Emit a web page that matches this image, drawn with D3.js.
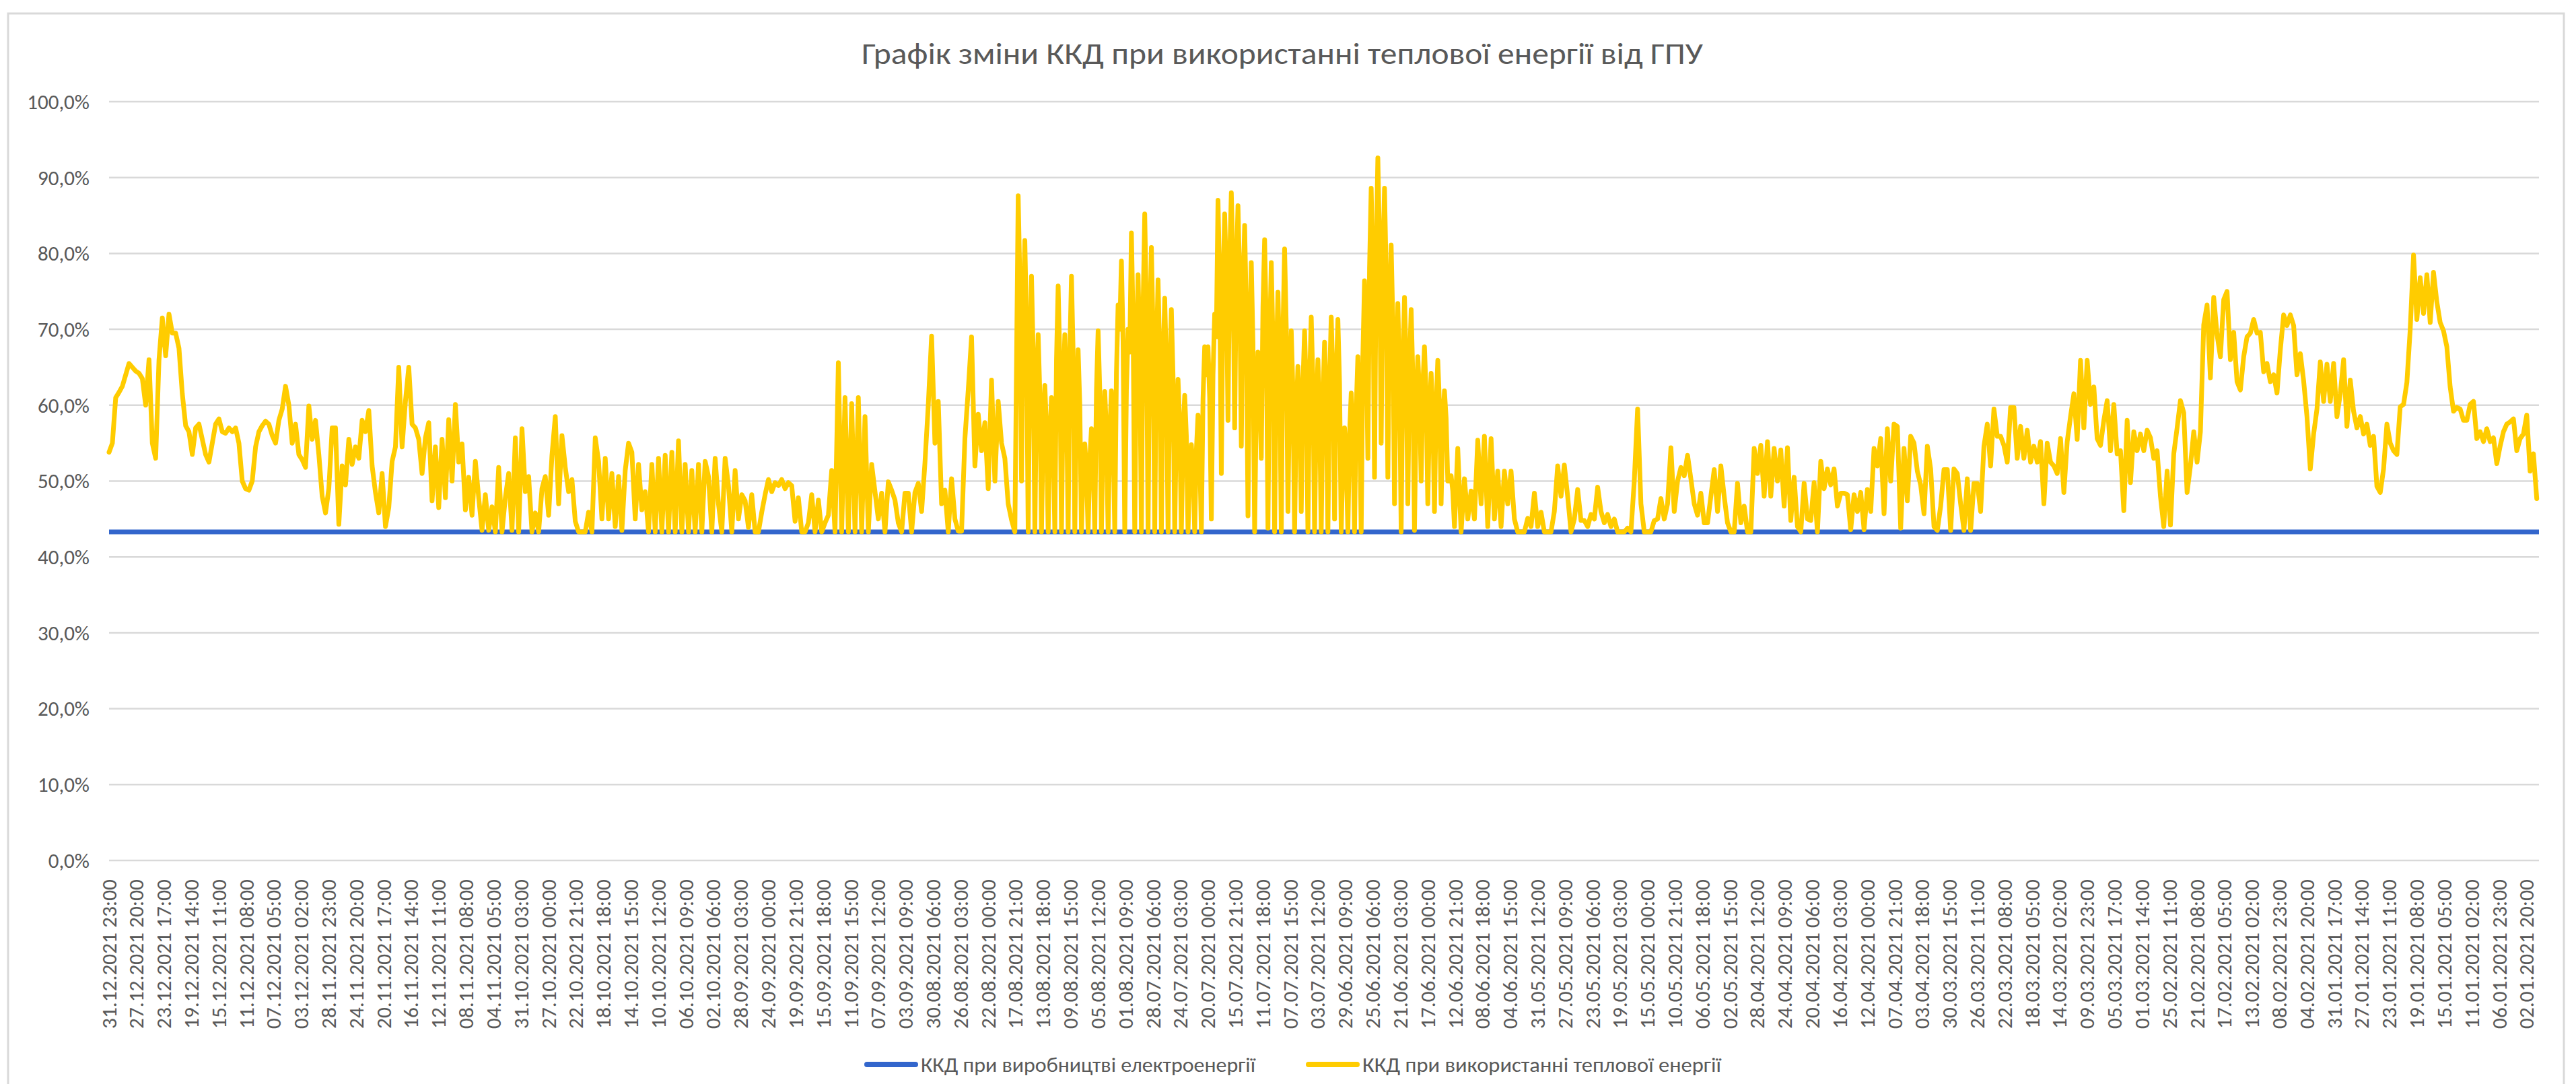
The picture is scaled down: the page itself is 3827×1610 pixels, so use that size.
<!DOCTYPE html>
<html><head><meta charset="utf-8">
<script src="https://cdn.jsdelivr.net/npm/d3@7/dist/d3.min.js"></script>
<style>body{margin:0;background:#fff}svg{display:block}</style>
</head><body><svg id="c" width="3827" height="1610"></svg>
<script>
const chartTitle = "Графік зміни ККД при використанні теплової енергії від ГПУ";
const seriesNames = ["ККД при виробництві електроенергії", "ККД при використанні теплової енергії"];
const seriesColors = ["#3366cc", "#ffcc00"];
const categoryCount = 8757;
const tickEvery = 99;
const tickLabels = [
"31.12.2021 23:00","27.12.2021 20:00","23.12.2021 17:00","19.12.2021 14:00","15.12.2021 11:00","11.12.2021 08:00","07.12.2021 05:00","03.12.2021 02:00",
"28.11.2021 23:00","24.11.2021 20:00","20.11.2021 17:00","16.11.2021 14:00","12.11.2021 11:00","08.11.2021 08:00","04.11.2021 05:00","31.10.2021 03:00",
"27.10.2021 00:00","22.10.2021 21:00","18.10.2021 18:00","14.10.2021 15:00","10.10.2021 12:00","06.10.2021 09:00","02.10.2021 06:00","28.09.2021 03:00",
"24.09.2021 00:00","19.09.2021 21:00","15.09.2021 18:00","11.09.2021 15:00","07.09.2021 12:00","03.09.2021 09:00","30.08.2021 06:00","26.08.2021 03:00",
"22.08.2021 00:00","17.08.2021 21:00","13.08.2021 18:00","09.08.2021 15:00","05.08.2021 12:00","01.08.2021 09:00","28.07.2021 06:00","24.07.2021 03:00",
"20.07.2021 00:00","15.07.2021 21:00","11.07.2021 18:00","07.07.2021 15:00","03.07.2021 12:00","29.06.2021 09:00","25.06.2021 06:00","21.06.2021 03:00",
"17.06.2021 00:00","12.06.2021 21:00","08.06.2021 18:00","04.06.2021 15:00","31.05.2021 12:00","27.05.2021 09:00","23.05.2021 06:00","19.05.2021 03:00",
"15.05.2021 00:00","10.05.2021 21:00","06.05.2021 18:00","02.05.2021 15:00","28.04.2021 12:00","24.04.2021 09:00","20.04.2021 06:00","16.04.2021 03:00",
"12.04.2021 00:00","07.04.2021 21:00","03.04.2021 18:00","30.03.2021 15:00","26.03.2021 11:00","22.03.2021 08:00","18.03.2021 05:00","14.03.2021 02:00",
"09.03.2021 23:00","05.03.2021 17:00","01.03.2021 14:00","25.02.2021 11:00","21.02.2021 08:00","17.02.2021 05:00","13.02.2021 02:00","08.02.2021 23:00",
"04.02.2021 20:00","31.01.2021 17:00","27.01.2021 14:00","23.01.2021 11:00","19.01.2021 08:00","15.01.2021 05:00","11.01.2021 02:00","06.01.2021 23:00",
"02.01.2021 20:00"];
const yTicks = [0,10,20,30,40,50,60,70,80,90,100];
// electricity efficiency: constant line, first and last category
const electricValues = [43.3, 43.3];
// heat-use efficiency, one reading every 12 hourly categories
const heatStepHours = 12;
const heatValues = [
53.8,55,61,61.7,62.5,64,65.5,65,64.5,64.2,
63.5,60,66,55,53,66,71.5,66.5,72,69.5,
69.5,67.5,61.5,57.3,56.5,53.5,57,57.5,55.5,53.5,
52.5,55,57.5,58.2,56.5,56.3,57,56.5,57,55,
50,49,48.8,50,54.5,56.5,57.3,57.9,57.5,56,
55,58,59.5,62.5,60,55,57.5,53.5,52.8,51.8,
59.9,55.5,58,53.5,48,45.8,49,57,57,44.3,
52,49.5,55.5,52.2,54.5,53,58,56.5,59.3,52,
48.5,45.8,51,44,46.5,52.6,54.5,65,54.5,60.5,
65,57.5,57,55.5,51,55.7,57.7,47.4,54.5,46.5,
55.5,47.8,58.1,50,60.1,52.5,54.9,46.2,50.5,45.5,
52.6,47.8,43.5,48.2,43.5,46.6,43.3,51.8,43.3,47.8,
51,43.5,55.7,43.3,56.9,48.6,50.6,43.3,45.8,43.3,
49,50.6,45.5,53.4,58.5,47,56,51.8,48.6,50.2,
44.7,43.3,43.3,43.3,45.9,43.3,55.7,52.6,45,53,
45,51,44,50.6,43.5,51.4,55,53.8,45,52.2,
46.2,48.6,43.3,52.2,43.3,53,43.3,53.4,43.3,53.8,
43.3,55.3,43.3,52.2,43.3,51.4,43.3,52.2,43.3,52.6,
50.6,43.3,53,47,43.3,53,49.4,43.3,51.4,45,
48.2,47.4,43.9,48.2,43.3,43.3,45.9,48.2,50.2,48.6,
49.8,49.4,50.2,49,49.8,49.4,44.7,47.8,43.3,43.3,
44.5,48.2,43.3,47.5,43.3,44.5,45.5,51.4,43.3,65.6,
43.3,61,43.3,60.2,43.3,61,43.3,58.5,43.3,52.2,
48.6,45,48.4,43.3,49.9,48.8,47.5,44.5,43.3,48.4,
48.4,43.3,48.5,49.7,46,52.4,60,69.1,55,60.5,
47,48.8,43.3,50.3,45,43.4,43.4,55.6,62,69,
52,58.8,54,57.7,49,63.3,50,60.5,55,53,
47,44.9,43.3,87.6,50,81.7,43.3,77,43.3,69.3,
43.3,62.6,43.3,61,43.3,75.7,43.3,69.3,43.3,77,
43.3,67.3,43.3,54.9,43.3,56.9,43.3,69.8,43.3,61.8,
43.3,61.9,43.3,73.2,79,43.3,70,82.7,43.3,77.2,
43.3,85.2,43.3,80.8,43.3,76.5,43.3,74.1,43.3,72.6,
43.3,63.4,43.3,61.3,43.3,54.8,43.3,58.7,43.3,67.7,
67.7,45,72,87,51,85.2,58,88,57,86.3,
54.6,83.7,45.4,78.8,43.3,67,53,81.8,43.8,78.8,
43.3,74.9,43.3,80.6,46,69.8,43.3,65.1,46,69.8,
43.3,71.6,43.3,66,43.3,68.3,43.3,71.6,45,71.3,
43.3,57,43.3,61.6,43.3,66.4,43.3,76.4,53,88.6,
50.5,92.6,55,88.6,50.5,81.1,47,73.4,43.3,74.2,
47,72.6,43.5,66.4,50,67.7,47,64.2,46,65.9,
47,61.9,50,50.7,44,54.3,43.3,50.3,45,48.7,
45,55.4,47,55.9,44,55.6,45,51.3,44,51.3,
47,51.3,45,43.3,43.3,43.3,45.1,44,48.4,44,
45.9,43.3,43.3,43.3,46,52,48,52.1,48,43.3,
45,48.9,44.8,44.8,44,45.6,45,49.2,46,44.5,
45.6,44,45,43.3,43.3,43.3,43.8,43.3,50,59.5,
47,43.3,43.3,43.3,44.8,45,47.7,45,47,54.4,
46,50,51.8,50.7,53.4,50.3,47,45.5,48.4,44.5,
44.5,48,51.5,46,52,48,44.5,43.3,43.3,49.7,
44.5,46.7,43.3,43.3,54.3,51,54.7,48,55.2,48,
54.3,50,54.1,46.7,54.4,44.8,50.5,44,43.3,49.7,
45,44.8,49.8,43.3,52.6,49,51.6,49.5,51.6,46.7,
48.4,48.4,48.2,43.6,48.2,46,48.5,43.6,48.9,46,
54.3,52,55.6,45.7,56.9,50,57.5,57.2,43.8,54.3,
47.4,55.9,55,51.3,49.5,45.7,54.6,51.6,44,43.5,
46.7,51.5,51.5,43.5,51.6,51,47,43.5,50.3,43.5,
49.7,49.7,46,54.6,57.5,52,59.5,55.9,55.9,54.7,
52.5,59.7,59.7,53,57.2,53,56.7,52.5,54.6,52.5,
55.2,47,55,52.5,52,51,55.6,48.5,55.2,58.5,
61.5,55.5,65.9,57,65.9,60.1,62.4,55.6,54.7,58,
60.6,54,60.1,53.6,54,46.1,58,49.8,56.5,54,
56.2,54,56.7,55.7,53,54,48,44,51.3,44.2,
53.6,57,60.6,59,48.5,52,56.5,52.5,56.5,70.6,
73.2,63.6,74.2,69.3,66.4,73.9,75,66,69.6,63.1,
62,66.4,69,69.5,71.3,69.5,69.6,64.4,65.5,63.1,
64,61.6,67.3,71.9,70.5,71.9,70.5,64,66.8,63.2,
58.5,51.6,56.2,59.5,65.7,60.5,65.4,60.5,65.5,58.5,
61.5,66,57.2,63.3,59.2,57,58.5,56.2,57.5,54.7,
55.9,49.3,48.5,51.6,57.5,55,54,53.5,59.8,60.1,
63,70,79.8,71.3,76.8,72.1,77.2,70.9,77.5,73.6,
70.9,69.8,67.7,62.4,59.2,59.7,59.5,58,58,60.1,
60.5,55.6,56.5,55.2,56.9,55.2,55.7,52.3,54.6,56.5,
57.5,57.8,58.2,54,55.6,56.2,58.7,51.3,53.6,47.7];
// extra readings in the dense summer block, 6 hours after readings 273..403
const heatDenseStart = 273;
const heatDenseValues = [
76.3,72.2,70.2,66.9,66.9,61.5,61.5,56.8,56.8,55.7,
55.7,66,66,61.5,61.5,66.9,66.9,60.1,60.1,51.4,
51.4,52.8,52.8,61.9,61.9,56.3,56.3,56.3,56.3,64.2,
70,68.3,62,67,70.9,67,67,72.6,72.6,69.6,
69.6,66.5,66.5,64.9,64.9,63.8,63.8,57.4,57.4,55.9,
55.9,51.4,51.4,54,54,60.8,64,61,64,69,
76,75,77,79,78.7,77.5,76.8,75,72.2,68.8,
68.2,60,62.8,73,70.4,68.3,68.2,65.4,65.4,69.4,
70.2,62.7,61.9,58.6,59.4,62.7,61.9,63.1,63.1,59.2,
59.2,60.8,60.8,63.1,63.6,63.4,62.9,52.9,52.9,56.1,
56.1,59.5,59.5,66.5,69.4,78,77.2,80,81.3,78.5,
77.2,72,70.9,65.5,64.4,65,66,64.9,63.9,59.5,
61.5,62.4,61.5,59,58.7,60,60.2,57.4,58.3,50,
48.7];

const FONT = "Carlito, Calibri, Lato, 'Liberation Sans', sans-serif";
const TXT = "#595959";
const svg = d3.select("#c");
const plot = {left: 162, right: 3772, top: 151, bottom: 1278};

const x = d3.scaleLinear().domain([0, categoryCount - 1]).range([plot.left, plot.right]);
const y = d3.scaleLinear().domain([0, 100]).range([plot.bottom, plot.top]);

// chart area border
svg.append("rect").attr("x", 12).attr("y", 20).attr("width", 3797).attr("height", 1600)
  .attr("fill", "#fff").attr("stroke", "#d9d9d9").attr("stroke-width", 3);

// title
svg.append("text").attr("x", 1905).attr("y", 95).attr("text-anchor", "middle")
  .attr("font-family", FONT).attr("font-size", 45).attr("fill", TXT)
  .attr("textLength", 1250).attr("lengthAdjust", "spacingAndGlyphs").text(chartTitle);

// gridlines
svg.append("g").selectAll("line").data(yTicks).join("line")
  .attr("x1", plot.left).attr("x2", plot.right)
  .attr("y1", d => y(d)).attr("y2", d => y(d))
  .attr("stroke", "#d9d9d9").attr("stroke-width", 2.5);

// y labels
const fmt = d => d3.format(".1f")(d).replace(".", ",") + "%";
svg.append("g").selectAll("text").data(yTicks).join("text")
  .attr("x", 133).attr("y", d => y(d)).attr("dy", "0.35em").attr("text-anchor", "end")
  .attr("font-family", FONT).attr("font-size", 31).attr("fill", TXT).text(fmt);

// x labels
svg.append("g").selectAll("text").data(tickLabels).join("text")
  .attr("transform", (d, i) => `translate(${x(i * tickEvery)},1306) rotate(-90)`)
  .attr("dy", "0.35em").attr("text-anchor", "end")
  .attr("font-family", FONT).attr("font-size", 30).attr("fill", TXT)
  .attr("textLength", 222).attr("lengthAdjust", "spacingAndGlyphs").text(d => d);

// series lines
const line = d3.line().x(d => x(d[0])).y(d => y(d[1]));
const electricPts = electricValues.map((v, i) => [i * (categoryCount - 1), v]);
const heatPts = heatValues.map((v, i) => [i * heatStepHours, v])
  .concat(heatDenseValues.map((v, k) => [(heatDenseStart + k) * heatStepHours + heatStepHours / 2, v]))
  .sort((a, b) => a[0] - b[0]);
svg.append("path").datum(electricPts).attr("d", line).attr("fill", "none")
  .attr("stroke", seriesColors[0]).attr("stroke-width", 7);
svg.append("path").datum(heatPts).attr("d", line).attr("fill", "none")
  .attr("stroke", seriesColors[1]).attr("stroke-width", 7).attr("stroke-linejoin", "round").attr("stroke-linecap", "round");

// legend
const legendX = [1288, 1944];
const legendTextLen = [497, 533];
const lg = svg.append("g").selectAll("g").data(seriesNames).join("g")
  .attr("transform", (d, i) => `translate(${legendX[i]},1581)`);
lg.append("line").attr("x1", 0).attr("x2", 72).attr("y1", 0).attr("y2", 0)
  .attr("stroke", (d, i) => seriesColors[i]).attr("stroke-width", 8).attr("stroke-linecap", "round");
lg.append("text").attr("x", 80).attr("dy", "0.35em")
  .attr("font-family", FONT).attr("font-size", 31).attr("fill", TXT)
  .attr("textLength", (d, i) => legendTextLen[i]).attr("lengthAdjust", "spacingAndGlyphs").text(d => d);
</script></body></html>
